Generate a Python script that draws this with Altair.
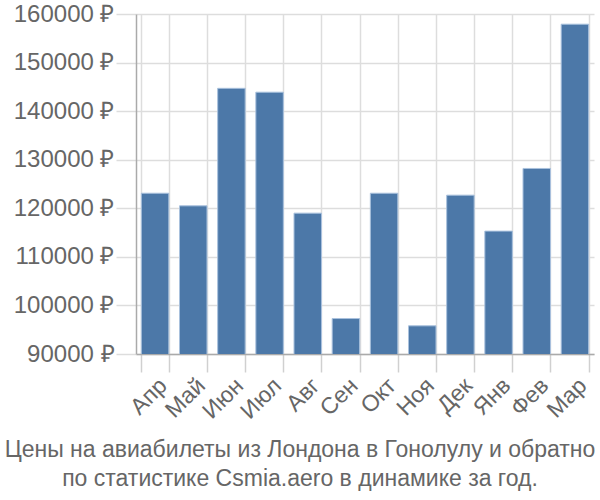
import altair as alt
import pandas as pd

months = ["Апр", "Май", "Июн", "Июл", "Авг", "Сен", "Окт", "Ноя", "Дек", "Янв", "Фев", "Мар"]
prices = [123100, 120500, 144700, 143900, 119000, 97300, 123100, 95800, 122700, 115300, 128200, 157900]
title_lines = ["Цены на авиабилеты из Лондона в Гонолулу и обратно",
               "по статистике Csmia.aero в динамике за год."]

df = pd.DataFrame({"month": months, "price": prices})

chart = alt.Chart(df).mark_bar(
    color="#4c78a8", stroke="#a9c1dd", strokeWidth=1, clip=True
).encode(
    x=alt.X("month:N", sort=months, title=None,
            scale=alt.Scale(paddingInner=0.28, paddingOuter=0.14),
            axis=alt.Axis(labelAngle=-45, labelFontSize=23, labelColor="#666666",
                          labelFont="Liberation Sans", tickBand="extent", grid=True,
                          gridColor="#dddddd", gridWidth=1.5, tickColor="#d0d0d0",
                          tickSize=18, tickWidth=1.5, domainColor="#aaaaaa", domainWidth=1.5,
                          labelPadding=2)),
    y=alt.Y("price:Q", title=None,
            scale=alt.Scale(domain=[90000, 160000], nice=False, zero=False),
            axis=alt.Axis(values=[90000, 100000, 110000, 120000, 130000, 140000, 150000, 160000],
                          labelExpr="datum.value + ' ₽'", labelFontSize=24,
                          labelColor="#666666", labelFont="Liberation Sans",
                          gridColor="#dddddd", gridWidth=1.5, tickColor="#dddddd",
                          tickSize=20, tickWidth=1.5, domainColor="#aaaaaa", domainWidth=1.5,
                          labelPadding=2)),
).properties(
    width=458, height=340,
    autosize=alt.AutoSizeParams(type="none"),
    padding={"left": 136, "top": 14, "right": 6, "bottom": 146},
    title=alt.TitleParams(title_lines, orient="bottom", anchor="middle", dx=-65,
                          fontSize=23, font="Liberation Sans", fontWeight="normal",
                          color="#666666", offset=16, lineHeight=29),
).configure_view(stroke=None)

chart.save("out.html", embed_options={"renderer": "svg", "actions": False})
